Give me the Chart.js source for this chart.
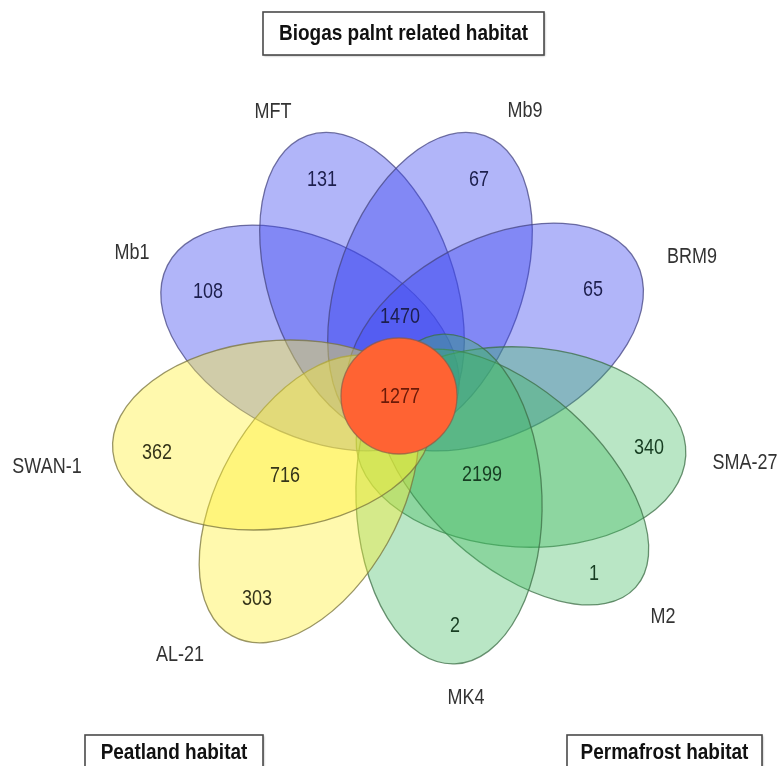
<!DOCTYPE html>
<html>
<head>
<meta charset="utf-8">
<script src="https://cdn.jsdelivr.net/npm/chart.js@4.4.1/dist/chart.umd.min.js"></script>
<style>
    html, body { margin: 0; padding: 0; background: #fff; }
    canvas { display: block; }
</style>
</head>
<body>
<canvas id="chartFlor" width="779" height="766"></canvas>
<script>
// Datos del diagrama (conteos de OTUs por conjunto)
const conjuntos = ['Mb1', 'MFT', 'Mb9', 'BRM9', 'SMA-27', 'M2', 'MK4', 'AL-21', 'SWAN-1'];
const exclusivos = [108, 131, 67, 65, 340, 1, 2, 303, 362];
const habitats = ['Biogas palnt related habitat', 'Peatland habitat', 'Permafrost habitat'];
const compartidosHabitat = [1470, 716, 2199];
const nucleo = 1277;
// a que habitat pertenece cada conjunto (0 biogas, 1 peatland, 2 permafrost)
const habitatDeConjunto = [0, 0, 0, 0, 2, 2, 2, 1, 1];

// Geometria (unidades de la escala, no datos)
const petalos = [
    { cx: 310, cy: 338, rx: 160, ry: 97, rot: 27 },
    { cx: 362, cy: 286, rx: 160, ry: 92, rot: 70 },
    { cx: 430, cy: 286, rx: 160, ry: 92, rot: 110 },
    { cx: 495, cy: 337, rx: 160, ry: 97, rot: -28 },
    { cx: 521, cy: 447, rx: 165, ry: 100, rot: 3 },
    { cx: 513, cy: 477, rx: 165, ry: 87, rot: 42 },
    { cx: 449, cy: 499, rx: 165, ry: 93, rot: 88 },
    { cx: 309, cy: 499, rx: 157, ry: 90, rot: -60.7 },
    { cx: 272, cy: 435, rx: 160, ry: 94, rot: -6 }
];
const circuloNucleo = { cx: 399, cy: 396, r: 58 };
const posNombres = [[132, 253], [273, 112], [525, 111], [692, 257], [745, 463], [663, 617], [466, 698], [180, 655], [47, 467]];
const posExclusivos = [[208, 292], [322, 180], [479, 180], [593, 290], [649, 448], [594, 574], [455, 626], [257, 599], [157, 453]];
const posCompartidos = [[400, 317], [285, 476], [482, 475]];
const posNucleo = [400, 397];
const cajasHabitat = [
    { x: 263, y: 12, w: 281, h: 43 },
    { x: 85, y: 735, w: 178, h: 42 },
    { x: 567, y: 735, w: 195, h: 42 }
];

// Estilos por habitat
const rellenos = ['rgba(60,70,240,0.40)', 'rgba(255,240,50,0.40)', 'rgba(60,185,95,0.36)'];
const bordes = ['rgba(70,70,130,0.75)', 'rgba(120,115,60,0.75)', 'rgba(60,110,70,0.75)'];
const colorTexto = ['#1d1f4d', '#35351a', '#173d22'];

function escribir(ctx, txt, x, y, font, color) {
    ctx.save();
    ctx.translate(x, y);
    ctx.scale(1, 1.2);
    ctx.font = font;
    ctx.fillStyle = color;
    ctx.textAlign = 'center';
    ctx.textBaseline = 'middle';
    ctx.fillText(txt, 0, 0);
    ctx.restore();
}

const pluginFlor = {
    id: 'flor',
    beforeDatasetsDraw(chart) {
        const { ctx, scales: { x, y } } = chart;
        const px = v => x.getPixelForValue(v);
        const py = v => y.getPixelForValue(v);

        // 1. Petalos (elipses)
        petalos.forEach((p, i) => {
            const h = habitatDeConjunto[i];
            ctx.save();
            ctx.beginPath();
            ctx.ellipse(px(p.cx), py(p.cy), px(p.cx + p.rx) - px(p.cx), py(p.cy + p.ry) - py(p.cy), p.rot * Math.PI / 180, 0, Math.PI * 2);
            ctx.fillStyle = rellenos[h];
            ctx.fill();
            ctx.lineWidth = 1.3;
            ctx.strokeStyle = bordes[h];
            ctx.stroke();
            ctx.restore();
        });

        // 2. Circulo central
        const c = circuloNucleo;
        ctx.save();
        ctx.beginPath();
        ctx.arc(px(c.cx), py(c.cy), px(c.cx + c.r) - px(c.cx), 0, Math.PI * 2);
        ctx.fillStyle = '#ff6333';
        ctx.fill();
        ctx.lineWidth = 1.3;
        ctx.strokeStyle = 'rgba(140,90,70,0.7)';
        ctx.stroke();
        ctx.restore();
    },
    afterDatasetsDraw(chart) {
        const { ctx, scales: { x, y } } = chart;
        const fuente = '18px "Liberation Sans", Arial, sans-serif';

        // 3. Etiquetas desde los puntos de cada dataset
        chart.getDatasetMeta(0).data.forEach((pt, i) => {
            escribir(ctx, conjuntos[i], pt.x, pt.y, fuente, '#333333');
        });
        chart.getDatasetMeta(1).data.forEach((pt, i) => {
            escribir(ctx, String(exclusivos[i]), pt.x, pt.y, fuente, colorTexto[habitatDeConjunto[i]]);
        });
        chart.getDatasetMeta(2).data.forEach((pt, i) => {
            const txt = i < compartidosHabitat.length ? String(compartidosHabitat[i]) : String(nucleo);
            const col = i < compartidosHabitat.length ? colorTexto[i] : '#6a1a08';
            escribir(ctx, txt, pt.x, pt.y, fuente, col);
        });

        // 4. Cajas de habitat
        cajasHabitat.forEach((b, i) => {
            const x0 = x.getPixelForValue(b.x), y0 = y.getPixelForValue(b.y);
            const w = x.getPixelForValue(b.x + b.w) - x0, h = y.getPixelForValue(b.y + b.h) - y0;
            ctx.save();
            ctx.fillStyle = '#ffffff';
            ctx.shadowColor = 'rgba(0,0,0,0.35)';
            ctx.shadowBlur = 2;
            ctx.shadowOffsetX = 1;
            ctx.shadowOffsetY = 1;
            ctx.fillRect(x0, y0, w, h);
            ctx.shadowColor = 'transparent';
            ctx.lineWidth = 1.6;
            ctx.strokeStyle = '#4a4a4a';
            ctx.strokeRect(x0, y0, w, h);
            ctx.restore();
            const ty = i === 0 ? y0 + h / 2 : y0 + 18;
            escribir(ctx, habitats[i], x0 + w / 2, ty, 'bold 19px "Liberation Sans", Arial, sans-serif', '#111111');
        });
    }
};

const puntosCompartidos = posCompartidos.concat([posNucleo]);

new Chart(document.getElementById('chartFlor').getContext('2d'), {
    type: 'scatter',
    data: {
        datasets: [
            { label: 'nombres', data: posNombres.map(p => ({ x: p[0], y: p[1] })), pointRadius: 0 },
            { label: 'exclusivos', data: posExclusivos.map(p => ({ x: p[0], y: p[1] })), pointRadius: 0 },
            { label: 'compartidos', data: puntosCompartidos.map(p => ({ x: p[0], y: p[1] })), pointRadius: 0 }
        ]
    },
    options: {
        responsive: false,
        animation: false,
        events: [],
        layout: { padding: 0 },
        scales: {
            x: { type: 'linear', min: 0, max: 779, display: false },
            y: { type: 'linear', min: 0, max: 766, reverse: true, display: false }
        },
        plugins: { legend: { display: false }, tooltip: { enabled: false } }
    },
    plugins: [pluginFlor]
});
</script>
</body>
</html>
